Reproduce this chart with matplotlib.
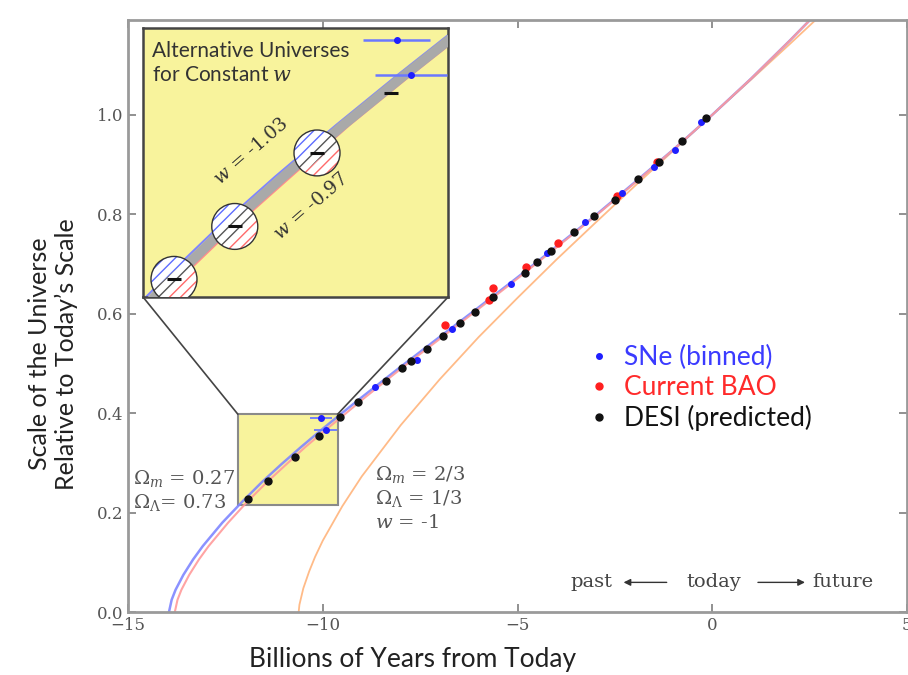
import matplotlib
matplotlib.use("Agg")
import matplotlib.pyplot as plt
from matplotlib.patches import Rectangle, Ellipse, PathPatch, ConnectionPatch
from matplotlib.path import Path
from matplotlib.transforms import Affine2D, Bbox

# expansion histories (Gyr from today, scale factor)
T_LCDM = [-13.87, -13.8, -13.7, -13.5, -13.25, -13.0, -12.5, -12.0, -11.5, -11.0, -10.5, -10.0,
          -9.5, -9.0, -8.0, -7.0, -6.0, -5.0, -4.0, -3.0, -2.0, -1.0, 0.0, 1.0, 2.0, 3.0]
A_LCDM = [0.0, 0.025, 0.045, 0.075, 0.106, 0.133, 0.180, 0.222, 0.261, 0.297, 0.332, 0.365,
          0.397, 0.429, 0.491, 0.551, 0.611, 0.672, 0.734, 0.797, 0.863, 0.930, 1.0, 1.073, 1.150, 1.230]
# w = -1.03 (blue) and w = -0.97 (red) share the a-values, shifted slightly in time
T_WLO = [-13.95, -13.88, -13.78, -13.58, -13.33, -13.08, -12.58, -12.07, -11.57, -11.07, -10.56, -10.06,
         -9.56, -9.05, -8.04, -7.04, -6.03, -5.02, -4.02, -3.01, -2.01, -1.0, 0.0, 1.0, 2.0, 3.0]
T_WHI = [-13.8, -13.73, -13.63, -13.43, -13.18, -12.93, -12.43, -11.94, -11.44, -10.94, -10.45, -9.95,
         -9.45, -8.96, -7.97, -6.97, -5.98, -4.98, -3.99, -2.99, -1.99, -1.0, 0.0, 1.0, 2.0, 3.0]
# Omega_m = 2/3 model
T_MAT = [-10.62, -10.6, -10.5, -10.35, -10.2, -10.0, -9.5, -9.0, -8.0, -7.0, -6.0, -5.0,
         -4.0, -3.0, -2.0, -1.0, 0.0, 1.0, 2.0, 3.0]
A_MAT = [0.0, 0.015, 0.048, 0.082, 0.111, 0.144, 0.213, 0.273, 0.376, 0.468, 0.553, 0.632,
         0.709, 0.783, 0.856, 0.928, 1.0, 1.071, 1.143, 1.216]

# data points
SNE_T = [-10.05, -9.93, -8.67, -7.59, -6.69, -5.17, -4.25, -3.26, -2.31, -1.51, -0.97, -0.28]
SNE_A = [0.390, 0.366, 0.452, 0.507, 0.569, 0.660, 0.722, 0.784, 0.842, 0.896, 0.930, 0.985]
SNE_XERR = [0.28, 0.30, 0, 0, 0, 0, 0, 0, 0, 0, 0, 0]
BAO_T = [-6.85, -5.74, -5.64, -4.79, -3.95, -2.44, -1.41]
BAO_A = [0.578, 0.627, 0.651, 0.694, 0.742, 0.836, 0.906]
DESI_T = [-11.92, -11.41, -10.72, -10.1, -9.56, -9.1, -8.38, -7.97, -7.74, -7.33, -6.92, -6.49,
          -6.1, -5.62, -4.82, -4.49, -4.13, -3.54, -3.05, -2.51, -1.9, -1.36, -0.77, -0.15]
DESI_A = [0.227, 0.263, 0.313, 0.354, 0.392, 0.422, 0.464, 0.490, 0.505, 0.529, 0.555, 0.581,
          0.603, 0.633, 0.681, 0.704, 0.726, 0.764, 0.796, 0.828, 0.870, 0.906, 0.948, 0.993]

ZOOM_T = (-12.18, -9.62)
ZOOM_A = (0.215, 0.398)

YELLOW = "#f8f39c"
GREY = "#555555"
BLUE_LINE = "#7f86ff"
RED_LINE = "#ff9a9a"

plt.rcParams["mathtext.fontset"] = "dejavuserif"
plt.rcParams["hatch.linewidth"] = 1.0

fig = plt.figure(figsize=(9.08, 6.75), dpi=100)
ax = fig.add_axes([0.141, 0.093, 0.858, 0.877])

ax.add_patch(Rectangle((ZOOM_T[0], ZOOM_A[0]), ZOOM_T[1] - ZOOM_T[0], ZOOM_A[1] - ZOOM_A[0],
                       fc=YELLOW, ec="#8a8a8a", lw=1.5, zorder=1))
ax.plot(T_MAT, A_MAT, color="#ffbb88", lw=1.3, zorder=2)
ax.plot(T_WLO, A_LCDM, color=BLUE_LINE, lw=1.8, alpha=0.9, zorder=2)
ax.plot(T_WHI, A_LCDM, color=RED_LINE, lw=1.5, alpha=0.9, zorder=2)

ax.errorbar(SNE_T, SNE_A, xerr=SNE_XERR, fmt="none", ecolor="#6b78ff", elinewidth=1.3, zorder=4)
h_sne, = ax.plot(SNE_T, SNE_A, "o", ms=4, color="#1f1fff", ls="none", zorder=4)
h_bao, = ax.plot(BAO_T, BAO_A, "o", ms=5, color="#ff1f1f", ls="none", zorder=3)
h_desi, = ax.plot(DESI_T, DESI_A, "o", ms=5, color="#111111", ls="none", zorder=5)

ax.set_xlim(-15, 5)
ax.set_ylim(0, 1.19)
ax.set_xticks([-15, -10, -5, 0, 5])
ax.set_yticks([0.0, 0.2, 0.4, 0.6, 0.8, 1.0])
ax.tick_params(direction="in", length=6, width=1.3, color="#888888", top=True, right=True,
               labelsize=12, labelcolor=GREY)
for lab in ax.get_xticklabels() + ax.get_yticklabels():
    lab.set_fontfamily("DejaVu Serif")
for s in ax.spines.values():
    s.set_color("#9a9a9a")
    s.set_linewidth(2)

ax.set_xlabel("Billions of Years from Today", fontsize=19, family="Lato", color="#222222")
ax.xaxis.set_label_coords(0.365, -0.058)
ax.set_ylabel("Scale of the Universe\nRelative to Today\u2019s Scale", fontsize=18, family="Lato",
              color="#222222")
ax.yaxis.set_label_coords(-0.064, 0.436)

ax.legend([h_sne, h_bao, h_desi], ["SNe (binned)", "Current BAO", "DESI (predicted)"],
          loc="upper left", bbox_to_anchor=(0.565, 0.492), frameon=False,
          handlelength=0.5, handletextpad=0.7, labelspacing=0.2,
          labelcolor=["#3b3bff", "#ff2a2a", "#111111"], prop={"family": "Lato", "size": 19})

serif = dict(family="DejaVu Serif", color=GREY, fontsize=14)
ax.text(-14.87, 0.269, r"$\Omega_m$ = 0.27", va="center", **serif)
ax.text(-14.87, 0.221, r"$\Omega_\Lambda$= 0.73", va="center", **serif)
ax.text(-8.67, 0.277, r"$\Omega_m$ = 2/3", va="center", **serif)
ax.text(-8.67, 0.229, r"$\Omega_\Lambda$ = 1/3", va="center", **serif)
ax.text(-8.67, 0.179, r"$w$ = -1", va="center", **serif)

small = dict(family="DejaVu Serif", color="#444444", fontsize=14, va="center")
ax.text(-3.1, 0.06, "past", ha="center", **small)
ax.text(0.03, 0.06, "today", ha="center", **small)
ax.text(3.35, 0.06, "future", ha="center", **small)
arrow = dict(arrowstyle="-|>", color="#333333", lw=1, mutation_scale=10)
ax.annotate("", xy=(-2.35, 0.06), xytext=(-1.1, 0.06), arrowprops=arrow)
ax.annotate("", xy=(2.45, 0.06), xytext=(1.1, 0.06), arrowprops=arrow)

# zoomed inset
axins = fig.add_axes([0.1575, 0.56, 0.336, 0.3985])
axins.set_facecolor(YELLOW)
axins.set_xlim(*ZOOM_T)
axins.set_ylim(*ZOOM_A)
axins.set_xticks([])
axins.set_yticks([])
for s in axins.spines.values():
    s.set_color("#444444")
    s.set_linewidth(1.8)

axins.plot(T_WLO, A_LCDM, color=BLUE_LINE, lw=1.5, zorder=2)
axins.plot(T_WHI, A_LCDM, color="#ff8c8c", lw=1.8, zorder=2)
axins.plot(T_LCDM, A_LCDM, color="#a9a9a9", lw=7, zorder=3)

RX, RY = 0.193, 0.0156
M, C = 0.87, 0.35
bands = [("#5d6cff", [(-2, -2 * M + C), (2, 2 * M + C), (2, 3), (-2, 3)]),
         ("#555555", [(-2, -2 * M - C), (2, 2 * M - C), (2, 2 * M + C), (-2, -2 * M + C)]),
         ("#ff6a6a", [(-2, -3), (2, -3), (2, 2 * M - C), (-2, -2 * M - C)])]
for t, a in zip(DESI_T[:3], DESI_A[:3]):
    tr = Affine2D().scale(RX, RY).translate(t, a) + axins.transData
    axins.add_patch(Ellipse((0, 0), 2, 2, transform=tr, fc="white", ec="none", zorder=5))
    local = Bbox.from_extents((ZOOM_T[0] - t) / RX, (ZOOM_A[0] - a) / RY,
                              (ZOOM_T[1] - t) / RX, (ZOOM_A[1] - a) / RY)
    circ = Ellipse((0, 0), 2, 2, transform=tr)
    for col, band in bands:
        path = Path(band + [band[0]], closed=True).clip_to_bbox(local)
        p = PathPatch(path, transform=tr, fc="none", ec=col, lw=0, hatch="///", zorder=6)
        axins.add_patch(p)
        p.set_clip_path(circ)
    axins.add_patch(Ellipse((0, 0), 2, 2, transform=tr, fc="none", ec="#333333", lw=1, zorder=7))

axins.errorbar(DESI_T, DESI_A, xerr=0.06, fmt="none", ecolor="#111111", elinewidth=2.2, zorder=8)
axins.errorbar(SNE_T[:2], SNE_A[:2], xerr=SNE_XERR[:2], fmt="o", ms=4, color="#1f1fff",
               ecolor="#6b78ff", elinewidth=1.8, zorder=8)

axins.text(0.03, 0.95, "Alternative Universes\nfor Constant $w$", transform=axins.transAxes,
           va="top", ha="left", family="Lato", fontsize=15, color="#333333", linespacing=1.25)
axins.text(0.354, 0.543, r"$w$ = -1.03", transform=axins.transAxes, rotation=41, ha="center",
           va="center", family="DejaVu Serif", fontsize=13.5, color="#333333")
axins.text(0.551, 0.338, r"$w$ = -0.97", transform=axins.transAxes, rotation=41, ha="center",
           va="center", family="DejaVu Serif", fontsize=13.5, color="#333333")

for xa, xb in [((0, 0), (ZOOM_T[0], ZOOM_A[1])), ((1, 0), (ZOOM_T[1], ZOOM_A[1]))]:
    con = ConnectionPatch(xyA=xa, coordsA=axins.transAxes, xyB=xb, coordsB=ax.transData,
                          color="#444444", lw=1.2)
    fig.add_artist(con)

fig.savefig("out.png", dpi=100)
